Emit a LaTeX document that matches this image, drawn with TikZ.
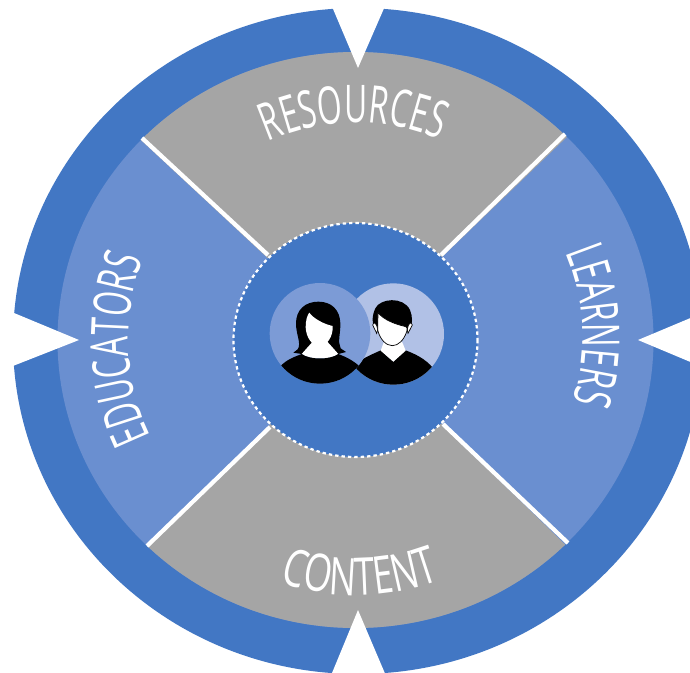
\documentclass[tikz,border=0pt]{standalone}
\usepackage{fontspec}
\usetikzlibrary{decorations.text}
\newfontfamily\ringfont[FakeStretch=0.61]{Open Sans}
\newfontfamily\widefont[FakeStretch=0.69]{Open Sans}
\definecolor{ringBlue}{RGB}{66, 119, 196}
\definecolor{sectorBlue}{RGB}{106, 143, 208}
\definecolor{sectorGray}{RGB}{165, 165, 165}
\definecolor{herDisc}{RGB}{124, 155, 214}
\definecolor{hisDisc}{RGB}{177, 193, 230}
\tikzset{
    spoke/.style={draw=white, line width=4.2pt},
    notch/.style={fill=white},
    wheeltext/.style 2 args={decorate, decoration={text along path, text align={center},
        text={|#1\fontsize{52}{52}\selectfont\color{white}|#2}}}
}
\def\outerring{(358,341) ellipse (345 and 333)}
\def\innerdisc{(355.5,340) ellipse (298 and 288)}
\def\hubdisc{(355.5,340) ellipse (122 and 117)}

\begin{document}
\begin{tikzpicture}[x=1pt, y=-1pt]
        \useasboundingbox (0,0) rectangle (690,672);
        \clip (0,0) rectangle (690,672);

        % Outer ring and the two colours of the wheel
        \fill[ringBlue] \outerring;
        \fill[sectorBlue] \innerdisc;
        \begin{scope}
            \clip \innerdisc;
            \fill[sectorGray] (355.5,340) -- (40,46) -- (668,40) -- cycle;
            \fill[sectorGray] (355.5,340) -- (40,652) -- (668,645) -- cycle;
        \end{scope}

        % Notches
        \fill[notch] (358,68) -- (325,-10) -- (392,-10) -- cycle;
        \fill[notch] (358,610) -- (325,690) -- (392,690) -- cycle;
        \fill[notch] (79,340) -- (-10,303) -- (-10,375) -- cycle;
        \fill[notch] (638,340) -- (700,314) -- (700,366) -- cycle;

        % Spokes
        \coordinate (topLeftOut) at (142,138);
        \coordinate (topLeftIn) at (268,255);
        \coordinate (topRightOut) at (565,134);
        \coordinate (topRightIn) at (441,255);
        \coordinate (lowLeftOut) at (147,546);
        \coordinate (lowLeftIn) at (270,427);
        \coordinate (lowRightOut) at (568,543);
        \coordinate (lowRightIn) at (443,424);
        \draw[spoke] (topLeftOut) -- (topLeftIn);
        \draw[spoke] (topRightOut) -- (topRightIn);
        \draw[spoke] (lowLeftOut) -- (lowLeftIn);
        \draw[spoke] (lowRightOut) -- (lowRightIn);

        % Hub
        \fill[ringBlue] \hubdisc;
        \draw[white, line width=2.2pt, dash pattern=on 3.4pt off 3pt] \hubdisc;

        % Labels
        \path[wheeltext={\ringfont}{RESOURCES}] (258,146) .. controls (322,115) and (386,115) .. (450,144);
        \path[wheeltext={\widefont}{CONTENT}] (280,582) .. controls (330,600) and (385,600) .. (440,580);
        \path[wheeltext={\ringfont}{EDUCATORS}] (156,447) .. controls (121,386) and (121,306) .. (147,248);
        \path[wheeltext={\ringfont}{LEARNERS}] (560,240) .. controls (588,300) and (590,360) .. (568,414);

        % The two people, traced at three times their size
        \begin{scope}[shift={(230,220)}, scale=1/3]
            \fill[hisDisc] (490,342) circle (152);
            \begin{scope}
                \clip (490,342) circle (152);
                \fill[black] (380,432) .. controls (400,412) and (430,402) .. (452,391)
                    -- (490,425) -- (527,391) .. controls (555,402) and (585,415) .. (610,445)
                    -- (610,500) -- (370,500) -- cycle;
            \end{scope}
            \fill[white] (462,365) -- (452,392) -- (490,425) -- (527,392) -- (516,365) -- cycle;
            \fill[black] (436,330) .. controls (420,300) and (432,275) .. (436,265)
                .. controls (450,235) and (520,228) .. (540,270)
                .. controls (548,290) and (548,310) .. (540,330) -- cycle;
            \filldraw[fill=white, draw=black, line width=.7pt] (428,315) .. controls (430,305) and (440,305) .. (443,330)
                -- (440,340) -- cycle;
            \filldraw[fill=white, draw=black, line width=.7pt] (547,315) .. controls (545,305) and (535,305) .. (532,330)
                -- (534,340) -- cycle;
            \filldraw[fill=white, draw=black, line width=.7pt] (444,278) .. controls (462,300) and (495,312) .. (520,318)
                .. controls (532,320) and (533,325) .. (530,335)
                .. controls (522,360) and (505,377) .. (487,377)
                .. controls (468,377) and (450,358) .. (443,330) -- cycle;

            \fill[herDisc] (270,340) circle (151);
            \fill[black] (265,245) .. controls (225,245) and (198,270) .. (198,310)
                .. controls (198,345) and (215,370) .. (203,388) -- (190,398) -- (215,402)
                -- (325,402) -- (348,396) -- (332,385)
                .. controls (322,365) and (332,340) .. (331,310)
                .. controls (330,270) and (305,245) .. (265,245) -- cycle;
            \fill[white] (248,365) -- (215,402) .. controls (240,420) and (300,420) .. (325,402) -- (292,365) -- cycle;
            \fill[white] (238,278) .. controls (250,295) and (280,312) .. (308,318)
                .. controls (310,350) and (290,378) .. (268,378)
                .. controls (245,378) and (228,350) .. (227,322)
                .. controls (227,300) and (232,285) .. (238,278) -- cycle;
            \begin{scope}
                \clip (270,340) circle (151);
                \fill[black] (150,440) .. controls (170,418) and (195,410) .. (215,402)
                    .. controls (240,420) and (300,420) .. (325,402)
                    .. controls (345,410) and (365,418) .. (390,440)
                    -- (390,500) -- (150,500) -- cycle;
            \end{scope}
        \end{scope}
    \end{tikzpicture}
\end{document}
